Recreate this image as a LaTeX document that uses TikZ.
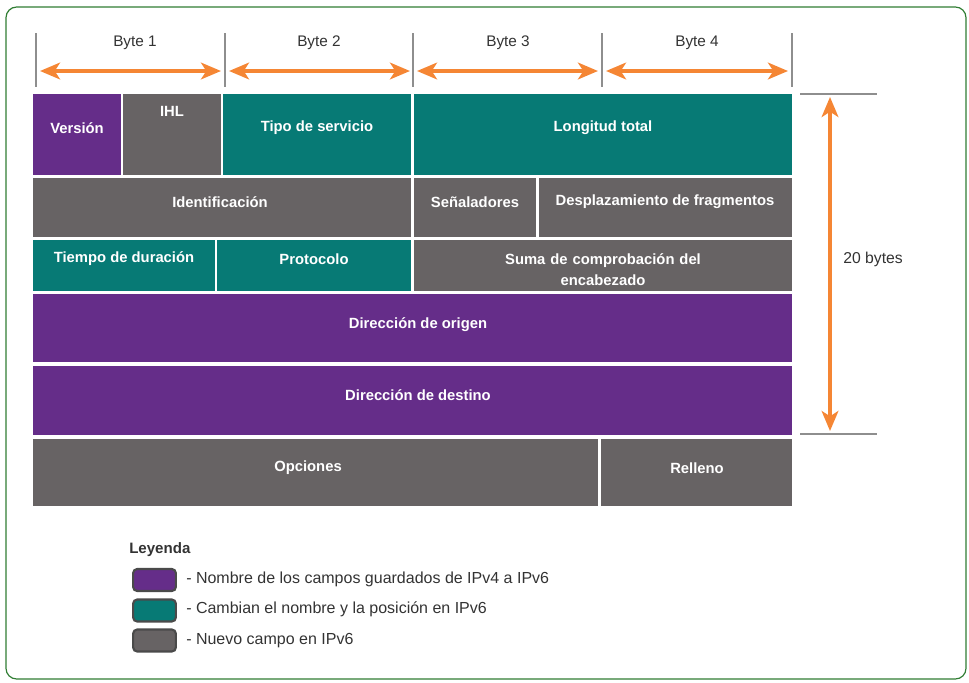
\documentclass[tikz,border=0pt]{standalone}
\usepackage{fontspec}
\setmainfont{Liberation Sans}
\usetikzlibrary{arrows.meta}
\definecolor{fpurple}{HTML}{652D89}
\definecolor{fteal}{HTML}{077A75}
\definecolor{fgray}{HTML}{676364}
\definecolor{forange}{HTML}{F58634}
\definecolor{ftick}{HTML}{8E8E8E}
\definecolor{fframe}{HTML}{2F7D32}
\definecolor{ftext}{HTML}{333333}
\definecolor{fswatch}{HTML}{4A4A4A}
\begin{document}
\begin{tikzpicture}[x=0.75pt,y=-0.75pt,
  fieldlabel/.style={text=white,font=\fontsize{11.1}{13}\selectfont\bfseries,align=center,inner sep=0pt},
  plainlabel/.style={text=ftext,font=\fontsize{11.5}{13}\selectfont,inner sep=0pt},
  legendlabel/.style={text=ftext,font=\fontsize{12}{14}\selectfont,inner sep=0pt,anchor=west},
  tick/.style={draw=ftick,line width=1.2pt},
  span/.style={draw=forange,line width=3pt,{Stealth[length=15pt,width=12.5pt,inset=4pt]}-{Stealth[length=15pt,width=12.5pt,inset=4pt]}},
  swatch/.style={draw=fswatch,line width=1.6pt,rounded corners=3pt,minimum width=32pt,minimum height=16.5pt,inner sep=0pt}]
\useasboundingbox (0,0) rectangle (969,682);
% outer frame
\draw[fframe,line width=0.9pt,rounded corners=8pt] (6,7) rectangle (966,679);

% byte scale
\foreach \x/\n in {36/t0,225/t1,413/t2,602/t3,792/t4}
  \draw[tick] (\x,33) -- (\x,87) coordinate (\n);
\foreach \a/\b/\n in {40/221/b1,229/410/b2,417/598/b3,606/788/b4}{
  \coordinate (\n l) at (\a,71);
  \coordinate (\n r) at (\b,71);
  \draw[span] (\n l) -- (\n r);
}
\node[plainlabel] (lb1) at (135,43) {Byte 1};
\node[plainlabel] (lb2) at (319,43) {Byte 2};
\node[plainlabel] (lb3) at (508,43) {Byte 3};
\node[plainlabel] (lb4) at (697,43) {Byte 4};

% row 1
\fill[fpurple] (33,94) rectangle (121,175);
\fill[fgray]   (123,94) rectangle (221,175);
\fill[fteal]   (223,94) rectangle (411,175);
\fill[fteal]   (414,94) rectangle (792,175);
\node[fieldlabel] (ver) at (77,128) {Versión};
\node[fieldlabel] (ihl) at (172,111) {IHL};
\node[fieldlabel] (tos) at (317,128) {Tipo de servicio};
\node[fieldlabel] (len) at (603,128) {Longitud total};

% row 2
\fill[fgray] (33,178) rectangle (411,237);
\fill[fgray] (414,178) rectangle (536,237);
\fill[fgray] (539,178) rectangle (792,237);
\node[fieldlabel] (ident) at (220,202) {Identificación};
\node[fieldlabel] (flags) at (475,202) {Señaladores};
\node[fieldlabel] (frag)  at (665,202) {Desplazamiento de fragmentos};

% row 3
\fill[fteal] (33,240) rectangle (215,291);
\fill[fteal] (217,240) rectangle (411,291);
\fill[fgray] (414,240) rectangle (792,291);
\node[fieldlabel] (ttl)   at (124,259) {Tiempo de duración};
\node[fieldlabel] (proto) at (314,259) {Protocolo};
\node[fieldlabel,text width=250pt] (csum) at (603,269.5) {Suma de comprobación del\\[3pt]encabezado};

% rows 4 and 5
\fill[fpurple] (33,294) rectangle (792,362);
\fill[fpurple] (33,366) rectangle (792,435);
\node[fieldlabel] (src) at (418,325) {Dirección de origen};
\node[fieldlabel] (dst) at (418,395) {Dirección de destino};

% row 6
\fill[fgray] (33,439) rectangle (598,506);
\fill[fgray] (601,439) rectangle (792,506);
\node[fieldlabel] (opt) at (308,468) {Opciones};
\node[fieldlabel] (pad) at (697,468) {Relleno};

% header length bracket
\draw[tick] (800,94) -- (877,94) coordinate (hb top);
\draw[tick] (800,434) -- (877,434) coordinate (hb bot);
\coordinate (hl top) at (830,97);
\coordinate (hl bot) at (830,431);
\draw[span] (hl top) -- (hl bot);
\node[plainlabel,anchor=west,font=\fontsize{11.8}{13}\selectfont] (bytes) at (843,259) {20 bytes};

% legend
\node[legendlabel,font=\fontsize{11.3}{13}\selectfont\bfseries] (leg) at (129,550) {Leyenda};
\node[swatch,fill=fpurple] (s1) at (154.5,580) {};
\node[swatch,fill=fteal]   (s2) at (154.5,610.5) {};
\node[swatch,fill=fgray]   (s3) at (154.5,640.5) {};
\node[legendlabel] (l1) at (186,579.5) {- Nombre de los campos guardados de IPv4 a IPv6};
\node[legendlabel] (l2) at (186,609.5) {- Cambian el nombre y la posición en IPv6};
\node[legendlabel] (l3) at (186,640.5) {- Nuevo campo en IPv6};
\end{tikzpicture}
\end{document}
